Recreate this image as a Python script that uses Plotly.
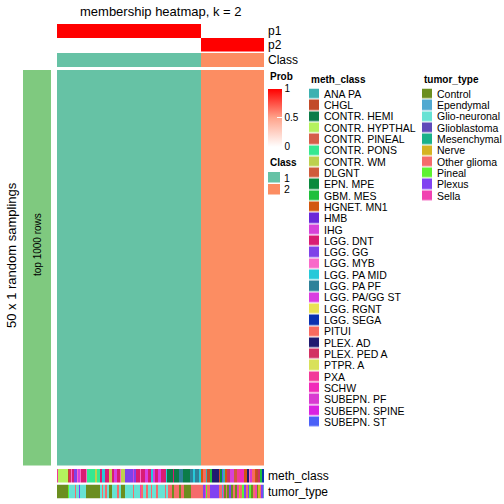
import plotly.graph_objects as go

# ---------------- data ----------------
n_samplings = 50

class_runs = [(1, 144), (2, 63)]
p1_runs = [(1.0, 144), (0.0, 63)]
p2_runs = [(0.0, 144), (1.0, 63)]

meth_class_names = ["ANA PA", "CHGL", "CONTR. HEMI", "CONTR. HYPTHAL", "CONTR. PINEAL",
                    "CONTR. PONS", "CONTR. WM", "DLGNT", "EPN. MPE", "GBM. MES",
                    "HGNET. MN1", "HMB", "IHG", "LGG. DNT", "LGG. GG", "LGG. MYB",
                    "LGG. PA MID", "LGG. PA PF", "LGG. PA/GG ST", "LGG. RGNT", "LGG. SEGA",
                    "PITUI", "PLEX. AD", "PLEX. PED A", "PTPR. A", "PXA", "SCHW",
                    "SUBEPN. PF", "SUBEPN. SPINE", "SUBEPN. ST"]
meth_class_colors = ["#3DB1B1", "#C24B2A", "#0C7C48", "#B4F25E", "#D55F4A",
                     "#36E891", "#BDD04E", "#CF5B3C", "#0B8A3D", "#1FBF3B",
                     "#D2570F", "#6A27D9", "#D742D9", "#D91C72", "#7F42E8", "#F96AC9",
                     "#27C9D9", "#2F8199", "#D93DE1", "#E9E152", "#0B31B1",
                     "#F86A5F", "#1F1A70", "#D23263", "#D9E15A", "#F23A99", "#F12AB9",
                     "#D93AD1", "#D922E1", "#4B61F8"]

tumor_type_names = ["Control", "Ependymal", "Glio-neuronal", "Glioblastoma", "Mesenchymal",
                    "Nerve", "Other glioma", "Pineal", "Plexus", "Sella"]
tumor_type_colors = ["#6B8E1F", "#52A9D1", "#67E2D4", "#5E4BB9", "#1AB189",
                     "#D5B322", "#F56B6B", "#5EF232", "#8142F1", "#F142B1"]

meth_class_runs = [
    ("PXA", 1), ("CONTR. HYPTHAL", 10), ("CHGL", 1), ("PLEX. PED A", 2), ("LGG. MYB", 1),
    ("LGG. DNT", 2), ("LGG. GG", 3), ("LGG. MYB", 1), ("LGG. PA/GG ST", 2), ("LGG. MYB", 1),
    ("LGG. DNT", 5), ("LGG. MYB", 1), ("CONTR. PONS", 8), ("CONTR. WM", 2), ("CONTR. PONS", 3),
    ("LGG. DNT", 2), ("LGG. PA MID", 3), ("LGG. DNT", 4), ("CONTR. WM", 3), ("LGG. DNT", 2),
    ("LGG. PA/GG ST", 3), ("LGG. DNT", 3), ("LGG. MYB", 1), ("CONTR. WM", 4), ("LGG. GG", 8),
    ("IHG", 1), ("LGG. GG", 2), ("LGG. DNT", 4), ("LGG. MYB", 1), ("LGG. DNT", 4),
    ("LGG. PA/GG ST", 3), ("LGG. DNT", 3), ("LGG. PA MID", 2), ("LGG. PA/GG ST", 2),
    ("LGG. DNT", 3), ("LGG. PA/GG ST", 3), ("LGG. DNT", 5), ("LGG. PA MID", 1),
    ("CONTR. HEMI", 6), ("LGG. DNT", 1), ("CONTR. HEMI", 5), ("LGG. PA PF", 4),
    ("CONTR. HEMI", 7), ("LGG. PA PF", 3), ("LGG. PA MID", 2), ("LGG. PA PF", 4),
    ("LGG. PA MID", 2),
    ("HGNET. MN1", 2), ("PITUI", 3), ("ANA PA", 1), ("CHGL", 3), ("GBM. MES", 2),
    ("PLEX. AD", 7), ("CHGL", 1), ("EPN. MPE", 2), ("SUBEPN. ST", 1), ("ANA PA", 2),
    ("HGNET. MN1", 2), ("PLEX. PED A", 3), ("IHG", 4), ("DLGNT", 3), ("PXA", 3),
    ("SCHW", 4), ("HGNET. MN1", 3), ("PLEX. AD", 2), ("LGG. MYB", 1), ("SUBEPN. PF", 2),
    ("PITUI", 3), ("HGNET. MN1", 1), ("CHGL", 2), ("PLEX. PED A", 2), ("GBM. MES", 2),
    ("LGG. SEGA", 2),
]

tumor_type_runs = [
    ("Control", 11), ("Pineal", 1), ("Glio-neuronal", 6), ("Other glioma", 1),
    ("Glio-neuronal", 3), ("Plexus", 1), ("Glio-neuronal", 6), ("Control", 14),
    ("Glio-neuronal", 2), ("Other glioma", 1), ("Glio-neuronal", 2), ("Other glioma", 2),
    ("Glio-neuronal", 2), ("Control", 3), ("Glio-neuronal", 5), ("Other glioma", 2),
    ("Glio-neuronal", 2), ("Control", 4), ("Glio-neuronal", 8), ("Other glioma", 1),
    ("Glio-neuronal", 6), ("Sella", 1), ("Other glioma", 2), ("Glio-neuronal", 3),
    ("Other glioma", 2), ("Glio-neuronal", 3), ("Other glioma", 1), ("Glio-neuronal", 4),
    ("Other glioma", 2), ("Glio-neuronal", 7), ("Other glioma", 1), ("Glio-neuronal", 2),
    ("Other glioma", 4), ("Control", 2), ("Other glioma", 5), ("Control", 2),
    ("Other glioma", 3), ("Control", 7), ("Other glioma", 10),
    ("Other glioma", 2), ("Plexus", 2), ("Sella", 1), ("Pineal", 1), ("Other glioma", 3),
    ("Plexus", 9), ("Other glioma", 3), ("Ependymal", 1), ("Sella", 1), ("Control", 2),
    ("Other glioma", 1), ("Control", 2), ("Plexus", 2), ("Control", 2), ("Other glioma", 2),
    ("Control", 2), ("Sella", 2), ("Nerve", 1), ("Other glioma", 2), ("Pineal", 2),
    ("Plexus", 2), ("Other glioma", 2), ("Plexus", 1), ("Pineal", 2), ("Control", 2),
    ("Other glioma", 2), ("Sella", 2), ("Control", 1), ("Nerve", 2), ("Other glioma", 1),
    ("Plexus", 2), ("Ependymal", 1),
]

class_colors = {1: "#66C2A5", 2: "#FC8D62"}
sampling_bar_color = "#7FC97F"


def expand(runs):
    out = []
    for v, n in runs:
        out += [v] * n
    return out


def discrete_scale(colors):
    n = len(colors)
    cs = []
    for i, c in enumerate(colors):
        cs.append([i / n, c])
        cs.append([(i + 1) / n, c])
    return cs


classes = expand(class_runs)
p1 = expand(p1_runs)
p2 = expand(p2_runs)
meth = expand(meth_class_runs)
tumor = expand(tumor_type_runs)
N = len(classes)
xs = list(range(N))

W = H = 504
FONT = "Liberation Sans, Arial, sans-serif"


def fx(px):
    return px / W


def fy(py):
    return 1 - py / H


fig = go.Figure()

# membership probabilities
fig.add_trace(go.Heatmap(
    z=[p1, p2], x=xs, y=[0, 1], xaxis="x", yaxis="y",
    colorscale=[[0, "#FFFFFF"], [0.5, "#FFA48C"], [1, "#FF0000"]], zmin=0, zmax=1,
    showscale=True, hoverinfo="skip",
    colorbar=dict(x=fx(268), xanchor="left", y=fy(88.5), yanchor="top",
                  len=58, lenmode="pixels", thickness=14, thicknessmode="pixels",
                  outlinewidth=0, xpad=0, ypad=0,
                  tickvals=[0, 0.5, 1], ticktext=["0", "0.5", "1"],
                  ticks="inside", tickcolor="white", ticklen=5,
                  tickfont=dict(size=10, family=FONT, color="black")),
))

cls_scale = discrete_scale([class_colors[1], class_colors[2]])
cls_idx = [c - 1 for c in classes]

# class row
fig.add_trace(go.Heatmap(z=[cls_idx], x=xs, y=[0], xaxis="x", yaxis="y2",
                         colorscale=cls_scale, zmin=-0.5, zmax=1.5, showscale=False,
                         hoverinfo="skip"))
# main body: one row per random sampling
fig.add_trace(go.Heatmap(z=[cls_idx for _ in range(n_samplings)], x=xs,
                         y=list(range(n_samplings)), xaxis="x", yaxis="y3",
                         colorscale=cls_scale, zmin=-0.5, zmax=1.5, showscale=False,
                         hoverinfo="skip"))
# meth_class annotation
m_idx = [meth_class_names.index(m) for m in meth]
fig.add_trace(go.Heatmap(z=[m_idx], x=xs, y=[0], xaxis="x", yaxis="y4",
                         colorscale=discrete_scale(meth_class_colors),
                         zmin=-0.5, zmax=len(meth_class_names) - 0.5, showscale=False,
                         hoverinfo="skip"))
# tumor_type annotation
t_idx = [tumor_type_names.index(t) for t in tumor]
fig.add_trace(go.Heatmap(z=[t_idx], x=xs, y=[0], xaxis="x", yaxis="y5",
                         colorscale=discrete_scale(tumor_type_colors),
                         zmin=-0.5, zmax=len(tumor_type_names) - 0.5, showscale=False,
                         hoverinfo="skip"))
# left sampling bar
fig.add_trace(go.Heatmap(z=[[0]], x=[0], y=[0], xaxis="x2", yaxis="y6",
                         colorscale=[[0, sampling_bar_color], [1, sampling_bar_color]],
                         showscale=False, hoverinfo="skip"))
# legends as heatmaps
fig.add_trace(go.Heatmap(z=[[0], [1]], x=[0], y=[0, 1], xaxis="x3", yaxis="y7",
                         colorscale=cls_scale, zmin=-0.5, zmax=1.5, showscale=False,
                         ygap=1.5, hoverinfo="skip"))
fig.add_trace(go.Heatmap(z=[[i] for i in range(len(meth_class_names))], x=[0],
                         y=list(range(len(meth_class_names))), xaxis="x4", yaxis="y8",
                         colorscale=discrete_scale(meth_class_colors),
                         zmin=-0.5, zmax=len(meth_class_names) - 0.5, showscale=False,
                         ygap=1.3, hoverinfo="skip"))
fig.add_trace(go.Heatmap(z=[[i] for i in range(len(tumor_type_names))], x=[0],
                         y=list(range(len(tumor_type_names))), xaxis="x5", yaxis="y9",
                         colorscale=discrete_scale(tumor_type_colors),
                         zmin=-0.5, zmax=len(tumor_type_names) - 0.5, showscale=False,
                         ygap=1.3, hoverinfo="skip"))

hidden_x = dict(visible=False, showgrid=False, zeroline=False)
lab_font = dict(size=12, family=FONT, color="black")
leg_font = dict(size=10.5, family=FONT, color="black")


def yax(domain, anchor, tickvals=None, ticktext=None, rng=None, font=lab_font, standoff=3):
    d = dict(domain=domain, anchor=anchor, showgrid=False, zeroline=False,
             showline=False, ticks="", fixedrange=True, automargin=False)
    if tickvals is None:
        d.update(showticklabels=False)
    else:
        d.update(side="right", tickvals=tickvals, ticktext=ticktext, tickfont=font,
                 ticklabelstandoff=standoff)
    if rng is not None:
        d.update(range=rng)
    return d


nm = len(meth_class_names)
nt = len(tumor_type_names)
step = 11.31

fig.update_layout(
    width=W, height=H, margin=dict(l=0, r=0, t=0, b=0, autoexpand=False),
    paper_bgcolor="white", plot_bgcolor="white", showlegend=False,
    font=dict(family=FONT, color="black"),
    xaxis=dict(domain=[fx(57), fx(264)], range=[-0.5, N - 0.5], **hidden_x),
    xaxis2=dict(domain=[fx(23), fx(51)], range=[-0.5, 0.5], anchor="y6", **hidden_x),
    xaxis3=dict(domain=[fx(268), fx(280)], range=[-0.5, 0.5], anchor="y7", **hidden_x),
    xaxis4=dict(domain=[fx(309), fx(319)], range=[-0.5, 0.5], anchor="y8", **hidden_x),
    xaxis5=dict(domain=[fx(422), fx(432)], range=[-0.5, 0.5], anchor="y9", **hidden_x),
    yaxis=yax([fy(51.5), fy(24)], "x", [0, 1], ["p1", "p2"], [1.5, -0.5]),
    yaxis2=yax([fy(67), fy(53)], "x", [0], ["Class"], [-0.5, 0.5]),
    yaxis3=yax([fy(465.5), fy(70)], "x", rng=[-0.5, n_samplings - 0.5]),
    yaxis4=yax([fy(482.5), fy(469)], "x", [0], ["meth_class"], [-0.5, 0.5]),
    yaxis5=yax([fy(498.5), fy(484.5)], "x", [0], ["tumor_type"], [-0.5, 0.5]),
    yaxis6=yax([fy(465.5), fy(70)], "x2", rng=[-0.5, 0.5]),
    yaxis7=yax([fy(195.5), fy(172)], "x3", [0, 1], ["1", "2"], [1.5, -0.5], leg_font, 3),
    yaxis8=yax([fy(88.5 + nm * step), fy(88.5)], "x4", list(range(nm)), meth_class_names,
               [nm - 0.5, -0.5], leg_font, 4),
    yaxis9=yax([fy(88.5 + nt * step), fy(88.5)], "x5", list(range(nt)), tumor_type_names,
               [nt - 0.5, -0.5], leg_font, 4),
)

annos = [
    dict(text="membership heatmap, k = 2", x=fx(160.5), y=fy(11.5), size=13, bold=False, angle=0),
    dict(text="50 x 1 random samplings", x=fx(11), y=fy(255), size=13, bold=False, angle=-90),
    dict(text="top 1000 rows", x=fx(37), y=fy(245), size=10, bold=False, angle=-90),
    dict(text="Prob", x=fx(268), y=fy(76.5), size=10, bold=True, angle=0, left=True),
    dict(text="Class", x=fx(268), y=fy(163), size=10, bold=True, angle=0, left=True),
    dict(text="meth_class", x=fx(309), y=fy(79), size=10, bold=True, angle=0, left=True),
    dict(text="tumor_type", x=fx(422), y=fy(79), size=10, bold=True, angle=0, left=True),
]
for a in annos:
    t = f"<b>{a['text']}</b>" if a["bold"] else a["text"]
    fig.add_annotation(text=t, x=a["x"], y=a["y"], xref="paper", yref="paper",
                       showarrow=False, textangle=a["angle"],
                       xanchor="left" if a.get("left") else "center", yanchor="middle",
                       font=dict(size=a["size"], family=FONT, color="black"))

fig.write_html("out.html", config={"displayModeBar": False, "staticPlot": True},
               post_script="document.body.style.margin='0';document.body.style.padding='0';"
                           "document.body.style.overflow='hidden';")
